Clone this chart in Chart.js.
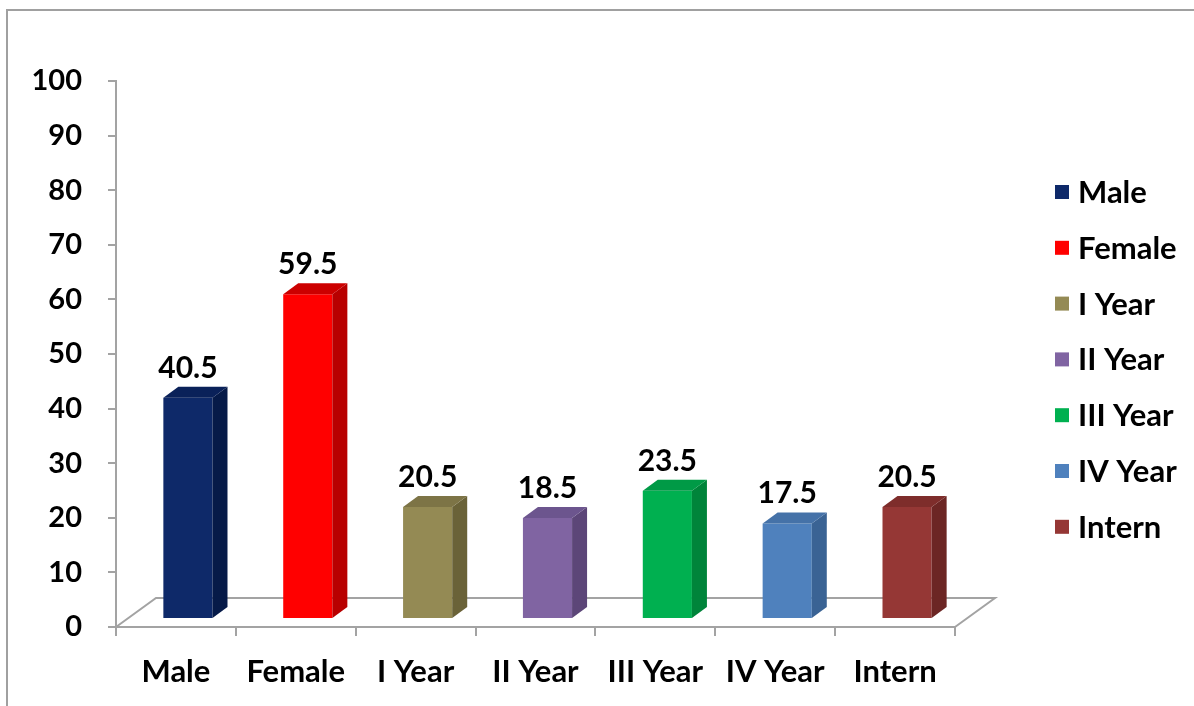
<!DOCTYPE html>
<html>
<head>
<meta charset="utf-8">
<script src="https://cdn.jsdelivr.net/npm/chart.js@4/dist/chart.umd.min.js"></script>
<style>
  html, body { margin: 0; padding: 0; background: #fff; }
  #wrap { width: 1194px; height: 706px; position: relative; }
</style>
</head>
<body>
<div id="wrap"><canvas id="chart" width="1194" height="706"></canvas></div>
<script>
// data
const categories = ['Male', 'Female', 'I Year', 'II Year', 'III Year', 'IV Year', 'Intern'];
const percentValues = [40.5, 59.5, 20.5, 18.5, 23.5, 17.5, 20.5];
const yTicks = [0, 10, 20, 30, 40, 50, 60, 70, 80, 90, 100];

// front / side / top colours for each bar
const frontColors = ['#0e2969', '#ff0000', '#948a54', '#8064a2', '#00b050', '#4f81bd', '#953735'];
const sideColors  = ['#061a48', '#b80000', '#6a6238', '#5c4678', '#00843a', '#3a6394', '#6c2624'];
const topColors   = ['#0a2159', '#cc0000', '#7d7446', '#6c558e', '#009a46', '#4572a8', '#7e2d2b'];

const FONT = 'Lato, "Open Sans", sans-serif';
const AXIS_GREY = '#a3a3a3';

// fake-3D offsets (pixels)
const BAR_SHIFT = { x: 12, y: -8 };
const BAR_DEPTH = { x: 15, y: -11 };
const FLOOR_DEPTH = { x: 40, y: -29 };

const threeD = {
  id: 'threeD',
  beforeDraw(chart) {
    const ctx = chart.ctx;
    ctx.save();
    ctx.strokeStyle = '#a0a0a0';
    ctx.lineWidth = 2;
    ctx.beginPath();
    ctx.moveTo(7, 706);
    ctx.lineTo(7, 10);
    ctx.lineTo(1194, 10);
    ctx.stroke();
    ctx.restore();
  },
  beforeDatasetsDraw(chart) {
    const { ctx, chartArea: a } = chart;
    // floor outline
    ctx.save();
    ctx.strokeStyle = AXIS_GREY;
    ctx.lineWidth = 2;
    ctx.beginPath();
    ctx.moveTo(a.left, a.bottom);
    ctx.lineTo(a.left + FLOOR_DEPTH.x, a.bottom + FLOOR_DEPTH.y);
    ctx.lineTo(a.right + FLOOR_DEPTH.x, a.bottom + FLOOR_DEPTH.y);
    ctx.lineTo(a.right, a.bottom);
    ctx.stroke();
    ctx.restore();
    ctx.save();
    ctx.translate(BAR_SHIFT.x, BAR_SHIFT.y);
  },
  afterDatasetsDraw(chart) {
    const ctx = chart.ctx;
    const meta = chart.getDatasetMeta(0);
    meta.data.forEach((bar, i) => {
      const l = bar.x - bar.width / 2, r = bar.x + bar.width / 2;
      const t = bar.y, b = bar.base;
      const dx = BAR_DEPTH.x, dy = BAR_DEPTH.y;
      // side face
      ctx.fillStyle = sideColors[i];
      ctx.beginPath();
      ctx.moveTo(r, b);
      ctx.lineTo(r + dx, b + dy);
      ctx.lineTo(r + dx, t + dy);
      ctx.lineTo(r, t);
      ctx.closePath();
      ctx.fill();
      // top face
      ctx.fillStyle = topColors[i];
      ctx.beginPath();
      ctx.moveTo(l, t);
      ctx.lineTo(l + dx, t + dy);
      ctx.lineTo(r + dx, t + dy);
      ctx.lineTo(r, t);
      ctx.closePath();
      ctx.fill();
    });
    ctx.restore();

    // value labels
    ctx.save();
    ctx.font = 'bold 30px ' + FONT;
    ctx.fillStyle = '#000';
    ctx.textAlign = 'center';
    ctx.textBaseline = 'alphabetic';
    meta.data.forEach((bar, i) => {
      const topBack = bar.y + BAR_SHIFT.y + BAR_DEPTH.y;
      ctx.fillText(String(percentValues[i]), bar.x + BAR_SHIFT.x, topBack - 9);
    });
    ctx.restore();
  },
  afterDraw(chart) {
    // legend on the right
    const ctx = chart.ctx;
    ctx.save();
    ctx.font = 'bold 31px ' + FONT;
    ctx.textBaseline = 'middle';
    ctx.textAlign = 'left';
    categories.forEach((name, i) => {
      const cy = 192 + i * 55.8;
      ctx.fillStyle = frontColors[i];
      ctx.fillRect(1055, cy - 7, 14, 14);
      ctx.fillStyle = '#000';
      ctx.fillText(name, 1078, cy + 1);
    });
    ctx.restore();
  }
};

new Chart(document.getElementById('chart'), {
  type: 'bar',
  data: {
    labels: categories,
    datasets: [{
      data: percentValues,
      backgroundColor: frontColors,
      borderWidth: 0,
      categoryPercentage: 1,
      barPercentage: 0.41
    }]
  },
  options: {
    responsive: false,
    animation: false,
    events: [],
    layout: { padding: { left: 0, right: 239, top: 81, bottom: 0 } },
    plugins: { legend: { display: false }, tooltip: { enabled: false } },
    scales: {
      x: {
        grid: { display: true, drawOnChartArea: false, drawTicks: true, tickLength: 9, color: AXIS_GREY, lineWidth: 2, offset: true },
        border: { display: true, color: AXIS_GREY, width: 2 },
        ticks: { color: '#000', font: { family: FONT, size: 31, weight: 'bold' }, padding: 17, maxRotation: 0 },
        afterFit(scale) { scale.height = 706 - 627; }
      },
      y: {
        min: 0,
        max: 100,
        afterBuildTicks(scale) { scale.ticks = yTicks.map(v => ({ value: v })); },
        grid: { display: true, drawOnChartArea: false, drawTicks: true, tickLength: 8, color: AXIS_GREY, lineWidth: 2 },
        border: { display: true, color: AXIS_GREY, width: 2 },
        ticks: { color: '#000', font: { family: FONT, size: 29, weight: 'bold' }, padding: 26 },
        afterFit(scale) { scale.width = 116; }
      }
    }
  },
  plugins: [threeD]
});
</script>
</body>
</html>
